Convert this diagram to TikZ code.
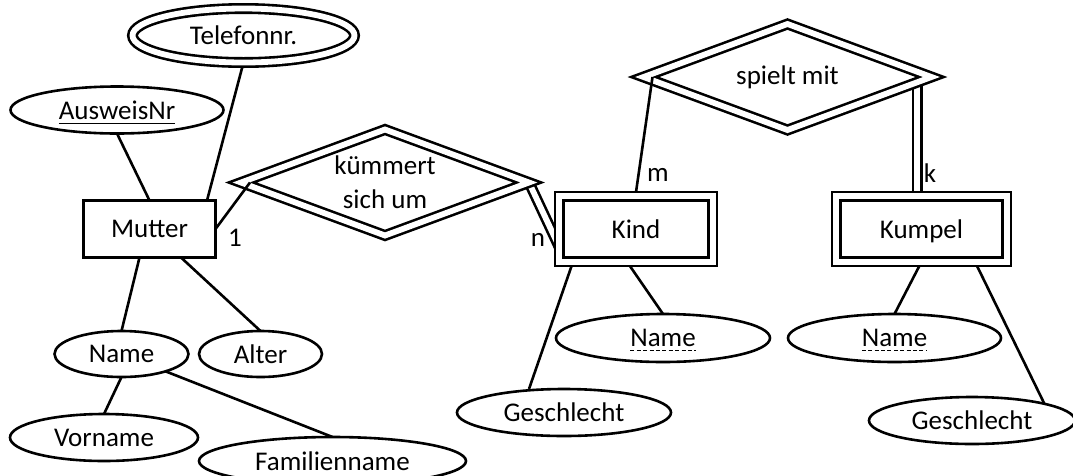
\documentclass[tikz,border=0pt]{standalone}
\usepackage{fontspec}
\setmainfont{Carlito}
\usetikzlibrary{shapes.geometric}
\pgfdeclarelayer{bg}
\pgfsetlayers{bg,main}
\newlength\keyw
\newlength\partw

\begin{document}
\settowidth{\keyw}{\fontsize{27}{34}\selectfont AusweisNr}%
\settowidth{\partw}{\fontsize{27}{34}\selectfont Name}%
\begin{tikzpicture}[x=1pt,y=-1pt,
  every node/.style={font=\fontsize{27}{34}\selectfont, inner sep=0pt, outer sep=0pt},
  ln/.style={line width=2.6pt},
  dbl/.style={line width=2.6pt, double, double distance=5.8pt},
  attr/.style={ellipse, draw, ln, fill=white},
  mattr/.style={ellipse, draw, dbl, fill=white},
  ent/.style={rectangle, draw, ln, fill=white},
  went/.style={rectangle, draw, dbl, fill=white, text height=19pt, text depth=0pt},
  rel/.style={diamond, aspect=2.7, draw, dbl, fill=white, align=center},
  keyline/.style={line width=1.2pt},
  partline/.style={line width=1.2pt, dash pattern=on 4pt off 2.4pt}
]
\useasboundingbox (0,0) rectangle (1073,475);

% entities
\node[ent, minimum width=132pt, minimum height=57pt] (mu) at (149.5,229) {Mutter};
\node[went, minimum width=153.6pt, minimum height=65.6pt] (kind) at (636,229) {Kind};
\node[went, minimum width=170.6pt, minimum height=65.6pt] (ku) at (921.5,229) {Kumpel};

% relationships
\node[rel, minimum width=288pt, minimum height=106pt] (km) at (385,182.5) {kümmert\\sich um};
\node[rel, minimum width=288pt, minimum height=106pt] (sm) at (787.5,77) {spielt mit};

% attributes
\node[mattr, minimum width=222pt, minimum height=54pt] (tel) at (243.5,35.5) {Telefonnr.};
\node[attr, minimum width=213pt, minimum height=47pt] (aus) at (117,110) {AusweisNr};
\node[attr, minimum width=134pt, minimum height=46pt] (mname) at (121.5,354) {Name};
\node[attr, minimum width=123pt, minimum height=46pt] (alter) at (260.5,354) {Alter};
\node[attr, minimum width=188pt, minimum height=47pt] (vor) at (104,437.5) {Vorname};
\node[attr, minimum width=267pt, minimum height=48pt] (fam) at (332.5,461) {Familienname};
\node[attr, minimum width=214pt, minimum height=48pt] (kname) at (663,338) {Name};
\node[attr, minimum width=214pt, minimum height=47pt] (kges) at (564,412.5) {Geschlecht};
\node[attr, minimum width=213pt, minimum height=48pt] (pname) at (894.5,338) {Name};
\node[attr, minimum width=206pt, minimum height=47pt] (pges) at (972,420.5) {Geschlecht};

% key and partial key underlines
\draw[keyline] ([xshift=-0.5\keyw,yshift=-4pt]aus.base) -- ++(\keyw,0);
\draw[partline] ([xshift=-0.5\partw,yshift=-4pt]kname.base) -- ++(\partw,0);
\draw[partline] ([xshift=-0.5\partw,yshift=-4pt]pname.base) -- ++(\partw,0);

\coordinate (kutop) at ([xshift=-4.5pt]ku.north);

% connectors behind the shapes
\begin{pgfonlayer}{bg}
  \draw[ln] (aus.south) -- (mu.north);
  \draw[ln] (tel.south) -- ([xshift=57.5pt]mu.north);
  \draw[ln] ([xshift=-10pt]mu.south) -- (mname.north);
  \draw[ln] ([xshift=31.5pt]mu.south) -- (alter.north);
  \draw[ln] (mname.south) -- (vor.north);
  \draw[ln] (mname) -- (fam.north);
  \draw[dbl] (km.east) -- ([yshift=-18pt]kind.west);
  \draw[ln] ([xshift=-63pt]kind.south) -- ([xshift=-35pt]kges.north);
  \draw[ln] ([xshift=-9pt]kind.south) -- (kname.north);
  \draw[ln] (ku.south) -- (pname.north);
  \draw[ln] ([xshift=53.5pt]ku.south) -- (pges.13);
  \draw[dbl] (kutop |- sm.center) -- (kutop);
\end{pgfonlayer}

% partial participation lines reaching the inner corners
\draw[ln] (mu.east) -- ([xshift=9pt]km.west);
\draw[ln] ([xshift=9pt]sm.west) -- ([yshift=4pt]kind.north);

% cardinalities
\node (c1) at (235,238) {1};
\node (cn) at (538,240) {n};
\node (cm) at (658,175) {m};
\node (ck) at (930,173) {k};
\end{tikzpicture}
\end{document}
